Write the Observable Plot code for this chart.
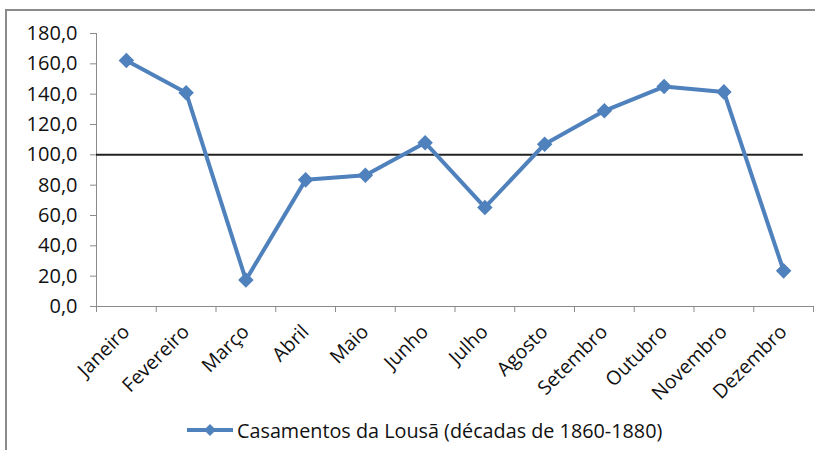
<!DOCTYPE html>
<html>
<head>
<meta charset="utf-8">
<script src="https://cdn.jsdelivr.net/npm/d3@7"></script>
<script src="https://cdn.jsdelivr.net/npm/@observablehq/plot@0.6"></script>
<style>
  body { margin: 0; background: #fff; }
  #wrap { position: relative; width: 815px; height: 450px; overflow: hidden; font-family: "Open Sans", sans-serif; color: #111; }
  #frame { position: absolute; left: 5px; top: 9px; width: 860px; height: 500px; border: 2px solid #8a8a8a; box-sizing: border-box; }
  #chart { position: absolute; left: 0; top: 0; }
  #legend { position: absolute; left: 187px; top: 410px; height: 40px; display: flex; align-items: center; font-size: 19.8px; white-space: nowrap; }
  #legend svg { margin-right: 2px; }
</style>
</head>
<body>
<div id="wrap">
  <div id="frame"></div>
  <div id="chart"></div>
  <div id="legend"></div>
</div>
<script>
const months = ["Janeiro", "Fevereiro", "Março", "Abril", "Maio", "Junho", "Julho", "Agosto", "Setembro", "Outubro", "Novembro", "Dezembro"];
const values = [162.2, 141.0, 17.5, 83.5, 86.5, 108.0, 65.3, 107.0, 129.0, 145.0, 141.5, 23.5];
const yTicks = [0, 20, 40, 60, 80, 100, 120, 140, 160, 180];
const referenceValue = 100;
const seriesName = "Casamentos da Lousã (décadas de 1860-1880)";
const blue = "#4f81bd";

const data = months.map((m, i) => ({month: m, pos: i + 0.5, value: values[i]}));
const bounds = d3.range(months.length + 1);
const centers = data.map(d => d.pos);

const chart = Plot.plot({
  width: 815,
  height: 410,
  marginLeft: 96,
  marginRight: 2,
  marginTop: 33,
  marginBottom: 104,
  style: {fontFamily: "'Open Sans', sans-serif", fontSize: "20px", color: "#111", background: "transparent"},
  x: {type: "linear", domain: [0, months.length]},
  y: {domain: [0, 180]},
  marks: [
    Plot.ruleY([0], {stroke: "#8a8a8a", strokeWidth: 1}),
    Plot.ruleX([0], {stroke: "#8a8a8a", strokeWidth: 1}),
    Plot.axisY({ticks: yTicks, tickSize: 6, tickPadding: 13, stroke: "#8a8a8a", tickFormat: d => d.toFixed(1).replace(".", ","), label: null, fontSize: 20}),
    Plot.axisX({ticks: bounds, tickSize: 6, stroke: "#8a8a8a", tickFormat: () => "", label: null}),
    Plot.axisX({ticks: centers, tickSize: 0, tickPadding: 22, tickRotate: -45, tickFormat: d => months[Math.floor(d)], label: null, fontSize: 19.5}),
    Plot.ruleY([referenceValue], {x1: 0, x2: 11.83, stroke: "#222", strokeWidth: 2}),
    Plot.line(data, {x: "pos", y: "value", stroke: blue, strokeWidth: 4}),
    Plot.dot(data, {x: "pos", y: "value", symbol: "diamond2", r: 7, fill: blue, stroke: "none"})
  ]
});
document.getElementById("chart").appendChild(chart);

const legend = document.getElementById("legend");
legend.innerHTML = `<svg width="48" height="16"><line x1="0" y1="8" x2="46" y2="8" stroke="${blue}" stroke-width="4"/><path d="M23,2 L29,8 L23,14 L17,8 Z" fill="${blue}"/></svg><span></span>`;
legend.querySelector("span").textContent = seriesName;
</script>
</body>
</html>
